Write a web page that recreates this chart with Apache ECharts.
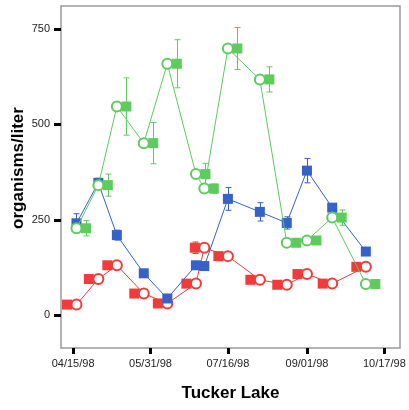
<!DOCTYPE html>
<html>
<head>
<meta charset="utf-8">
<script src="https://cdn.jsdelivr.net/npm/echarts@6/dist/echarts.min.js"></script>
<style>html,body{margin:0;padding:0;background:#fff}#c{width:409px;height:410px}</style>
</head>
<body>
<div id="c"></div>
<script>
// ---- data ----
const dates = ['04/17/98','04/30/98','05/11/98','05/27/98','06/10/98','06/27/98','07/02/98','07/16/98','08/04/98','08/20/98','09/01/98','09/16/98','10/06/98'];
const redValues   = [28, 95, 131, 57, 31, 83, 177, 155, 93, 80, 108, 83, 127];
const redErrors   = [0, 0, 0, 0, 0, 0, 15, 7, 0, 0, 0, 0, 0];
const blueValues  = [241, 347, 210, 110, 44, 131, 129, 305, 271, 242, 379, 282, 167];
const blueErrors  = [25, 12, 13, 8, 6, 0, 0, 30, 24, 16, 32, 6, 0];
const greenValues = [228, 341, 547, 451, 659, 370, 332, 699, 618, 190, 196, 256, 82];
const greenErrors = [20, 29, 75, 54, 63, 28, 12, 55, 33, 0, 0, 20, 0];
const xTickLabels = ['04/15/98','05/31/98','07/16/98','09/01/98','10/17/98'];
const yTickValues = [0, 250, 500, 750];
const xTitle = 'Tucker Lake';
const yTitle = 'organisms/liter';

// ---- helpers ----
function toDay(s){
  const p = s.split('/');
  const t = Date.UTC(1900 + (+p[2]), (+p[0]) - 1, +p[1]);
  const t0 = Date.UTC(1998, 3, 15);
  return Math.round((t - t0) / 86400000);
}
const days = dates.map(toDay);
const xTickDays = xTickLabels.map(toDay);

const COLORS = {red:'#f23a3a', blue:'#3462c8', green:'#5ecb5e'};
const FONT = 'Liberation Sans, Arial, sans-serif';

function groupSeries(name, vals, errs, color, off, z, showCircles){
  const pts = days.map((d,i)=>[d, vals[i]]);
  const errData = days.map((d,i)=>[d, vals[i]-errs[i], vals[i]+errs[i], errs[i]]);
  return [
    {
      type:'line', name:name+'-line', data:pts, symbol:'emptyCircle', symbolSize:10,
      showSymbol:showCircles, z:z,
      lineStyle:{color:color, width:1}, itemStyle:{color:color, borderWidth:0.8},
      animation:false, silent:true
    },
    {
      type:'custom', name:name+'-err', data:errData, z:z,
      encode:{x:0, y:[1,2]},
      renderItem:function(params, api){
        const e = api.value(3);
        if (!e) return null;
        const x = api.value(0);
        const p1 = api.coord([x, api.value(1)]);
        const p2 = api.coord([x, api.value(2)]);
        const cx = Math.round(p1[0] + off) + 0.5;
        const cap = 3;
        const st = {stroke:color, lineWidth:1};
        return {type:'group', children:[
          {type:'line', shape:{x1:cx, y1:p1[1], x2:cx, y2:p2[1]}, style:st},
          {type:'line', shape:{x1:cx-cap, y1:p1[1], x2:cx+cap, y2:p1[1]}, style:st},
          {type:'line', shape:{x1:cx-cap, y1:p2[1], x2:cx+cap, y2:p2[1]}, style:st}
        ]};
      },
      animation:false, silent:true
    },
    {
      type:'scatter', name:name+'-mean', data:pts, symbol:'rect', symbolSize:10, z:z,
      symbolOffset:[off, 0], itemStyle:{color:color, opacity:1},
      animation:false, silent:true
    }
  ];
}

const chart = echarts.init(document.getElementById('c'), null, {renderer:'canvas'});
chart.setOption({
  backgroundColor:'#fff',
  animation:false,
  grid:{left:61, top:6, right:9, bottom:62, containLabel:false, outerBoundsMode:'none',
    show:true, borderColor:'#9a9a9a', borderWidth:1.5, backgroundColor:'transparent'},
  graphic:[{
    type:'text', x:18, y:168, rotation:Math.PI/2,
    style:{text:yTitle, align:'center', verticalAlign:'middle', fill:'#000',
      font:'bold 17px ' + FONT}
  }],
  xAxis:{
    type:'value', min:-7.2, max:194.3,
    axisLine:{show:false, onZero:false},
    splitLine:{show:false},
    axisTick:{show:true, customValues:xTickDays, length:6, lineStyle:{color:'#000', width:3}},
    axisLabel:{customValues:xTickDays, margin:10, color:'#222', fontSize:11, fontFamily:FONT,
      formatter:function(v){ const i = xTickDays.indexOf(Math.round(v)); return i>=0 ? xTickLabels[i] : ''; }},
    name:xTitle, nameLocation:'middle', nameGap:37,
    nameTextStyle:{fontSize:17, fontWeight:'bold', color:'#000', fontFamily:FONT}
  },
  yAxis:{
    type:'value', min:-85.7, max:810.3,
    axisLine:{show:false, onZero:false},
    splitLine:{show:false},
    axisTick:{show:true, customValues:yTickValues, length:7, lineStyle:{color:'#000', width:3}},
    axisLabel:{customValues:yTickValues, margin:11, color:'#222', fontSize:11, fontFamily:FONT}
  },
  series:[].concat(
    groupSeries('red', redValues, redErrors, COLORS.red, -9.5, 2, true),
    groupSeries('blue', blueValues, blueErrors, COLORS.blue, 0, 3, false),
    groupSeries('green', greenValues, greenErrors, COLORS.green, 9.5, 4, true)
  )
});
</script>
</body>
</html>
